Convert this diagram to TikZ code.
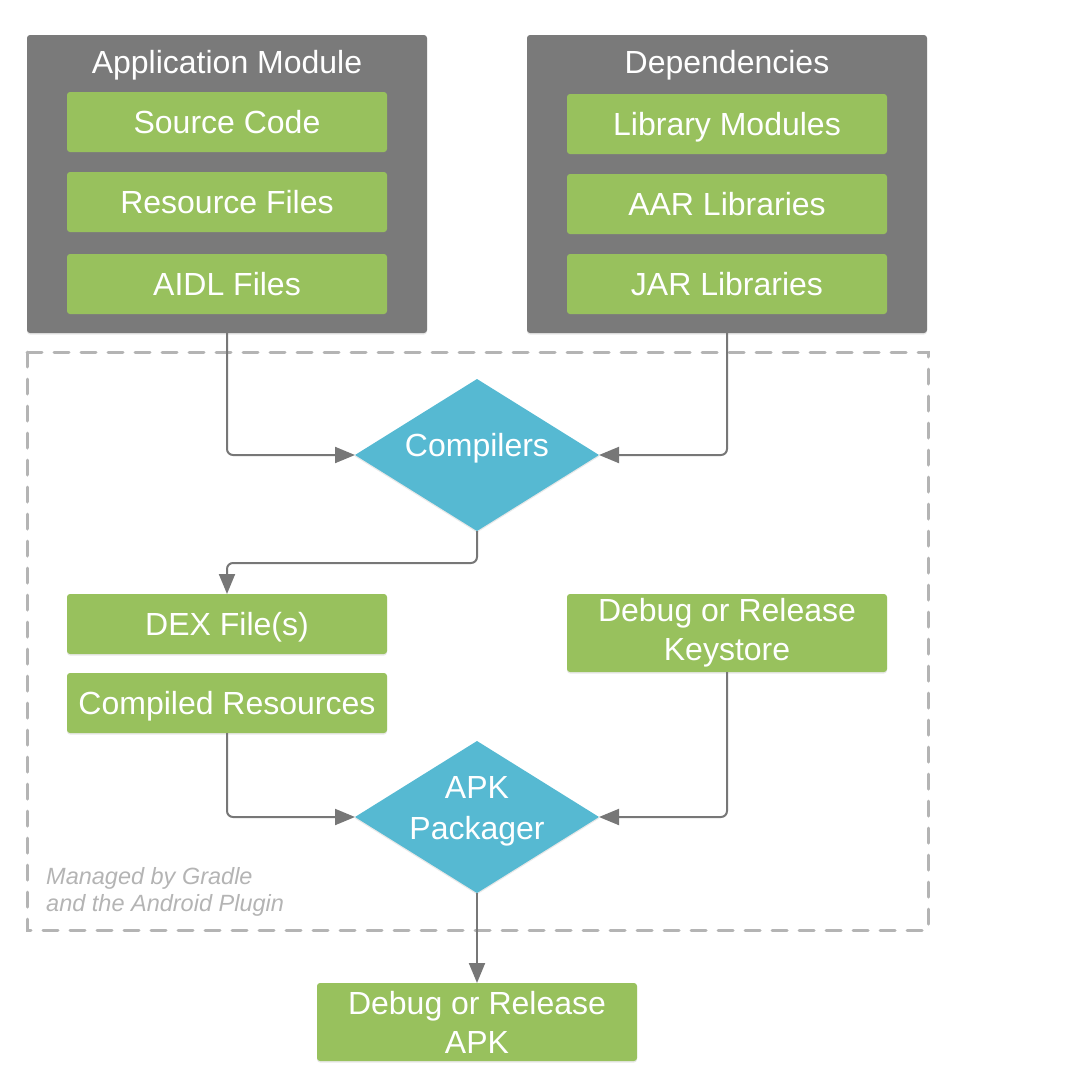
\documentclass[tikz,border=0pt]{standalone}
\usepackage{fontspec}
\setmainfont{Liberation Sans}
\usepackage{xcolor}
\usetikzlibrary{shapes.geometric, arrows.meta, shadows}
\definecolor{modgray}{HTML}{7A7A7A}
\definecolor{itemgreen}{HTML}{98C15D}
\definecolor{stepblue}{HTML}{56B9D2}
\definecolor{linkgray}{HTML}{777777}
\definecolor{dashgray}{HTML}{B4B4B4}

\begin{document}
\begin{tikzpicture}[x=1pt, y=-1pt,
		soft/.style={drop shadow={shadow xshift=0pt, shadow yshift=-1.5pt, opacity=0.18}},
		module/.style={rectangle, fill=modgray, rounded corners=3pt, minimum width=400pt, minimum height=298pt, inner sep=0pt, outer sep=0pt, soft},
		item/.style={rectangle, fill=itemgreen, rounded corners=3pt, minimum width=320pt, minimum height=60pt, inner sep=0pt, outer sep=0pt, text=white, font=\fontsize{32}{39}\selectfont, text height=23pt, text depth=0pt, soft},
		item2/.style={item, minimum height=78pt, text height=, text depth=, align=center},
		proc/.style={diamond, fill=stepblue, minimum width=244pt, minimum height=152pt, inner sep=0pt, outer sep=0pt, soft},
		title/.style={text=white, font=\fontsize{32}{39}\selectfont, align=center, inner sep=0pt},
		head/.style={title, text height=23pt, text depth=0pt},
		link/.style={draw=linkgray, line width=2pt, rounded corners=6pt, -{Triangle[length=20pt, width=16pt]}}]
	\useasboundingbox (0,0) rectangle (1084,1092);

	\draw[dashgray, line width=3pt, dash pattern=on 15pt off 12pt, line cap=round] (27,352) rectangle (928,930);

	\node[module] (appmod) at (227,184) {};
	\node[head] (apptitle) at (227,62) {Application Module};
	\node[item] (src) at (227,122) {Source Code};
	\node[item] (resf) at (227,202) {Resource Files};
	\node[item] (aidl) at (227,284) {AIDL Files};

	\node[module] (depmod) at (727,184) {};
	\node[head] (deptitle) at (727,62) {Dependencies};
	\node[item] (libmod) at (727,124) {Library Modules};
	\node[item] (aar) at (727,204) {AAR Libraries};
	\node[item] (jar) at (727,284) {JAR Libraries};

	\node[proc] (comp) at (477,455) {};
	\node[head] (comptext) at ([yshift=10pt]comp.center) {Compilers};

	\node[item] (dex) at (227,624) {DEX File(s)};
	\node[item] (cres) at (227,703) {Compiled Resources};
	\node[item2] (keys) at (727,633) {Debug or Release\\Keystore};

	\node[proc] (pack) at (477,817) {};
	\node[title] (packtext) at ([yshift=6pt]pack.center) {APK\\[2pt]Packager};

	\node[item2] (apk) at (477,1022) {Debug or Release\\APK};

	\node[anchor=north west, inner sep=0pt, align=left, text=dashgray, font=\fontsize{23.5}{27}\selectfont\itshape] (gradle) at (46,867) {Managed by Gradle\\and the Android Plugin};

	\draw[link] (appmod.south) |- (comp.west);
	\draw[link] (depmod.south) |- (comp.east);
	\draw[link] (comp.south) -- ++(0,32) -| (dex.north);
	\draw[link] (cres.south) |- (pack.west);
	\draw[link] (keys.south) |- (pack.east);
	\draw[link] (pack.south) -- (apk.north);
\end{tikzpicture}
\end{document}
